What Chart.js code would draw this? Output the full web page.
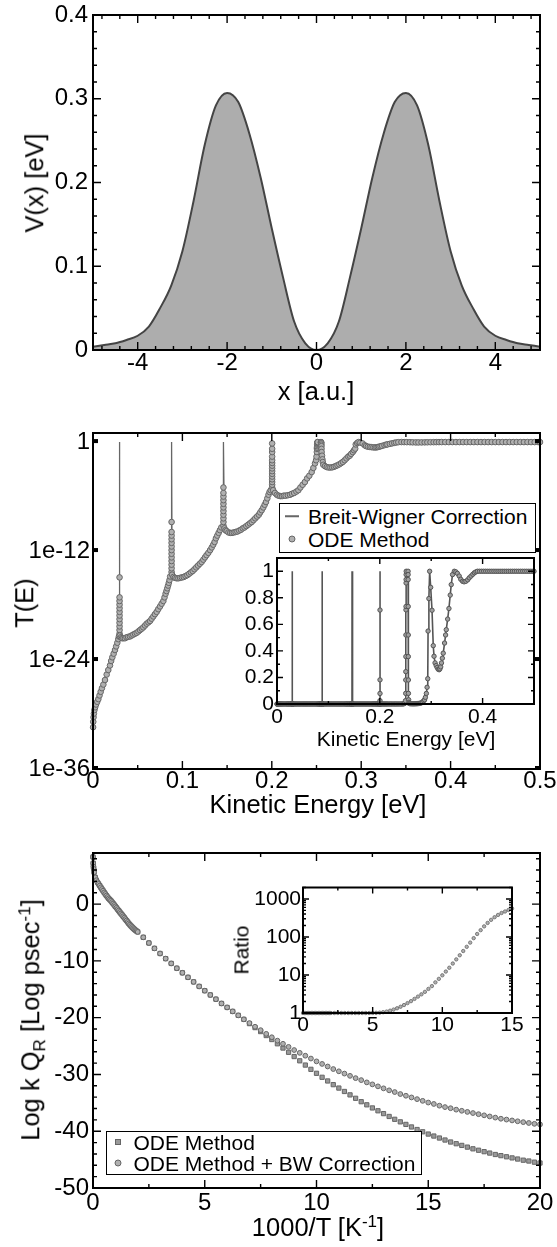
<!DOCTYPE html>
<html>
<head>
<meta charset="utf-8">
<title>Double barrier: potential, transmission and rate</title>
<script src="https://cdn.jsdelivr.net/npm/chart.js@4.4.1/dist/chart.umd.min.js"></script>
<style>
  html, body { margin:0; padding:0; background:#fff; }
  body { position:relative; width:557px; height:1247px; overflow:hidden;
         font-family:'Liberation Sans', Arial, Helvetica, sans-serif; color:#000; }
  canvas { position:absolute; }
  .t { position:absolute; font-size:25.5px; line-height:1; white-space:nowrap; transform:translate(-50%,-50%); }
  .t.rot { transform:translate(-50%,-50%) rotate(-90deg); }
  .t.small { font-size:21px; }
  .t sub, .t sup { font-size:17px; line-height:0; }
  .legend { position:absolute; box-sizing:border-box; border:1.5px solid #000; background:#fff; }
  .legend span { position:absolute; }
  .lt { font-size:21px; line-height:1; white-space:nowrap; transform:translateY(-50%); }
  .mk { transform:translate(-50%,-50%); box-sizing:border-box; }
</style>
</head>
<body>
<canvas id="c1" width="557" height="420" style="left:0;top:0"></canvas>
<canvas id="c2" width="557" height="410" style="left:0;top:420px"></canvas>
<canvas id="c3" width="557" height="417" style="left:0;top:830px"></canvas>
<canvas id="c2i" width="305" height="204" style="left:240px;top:546px"></canvas>
<canvas id="c3i" width="315" height="180" style="left:230px;top:870px"></canvas>

<div class="t rot" style="left:35px;top:183px">V(x) [eV]</div>
<div class="t" style="left:316px;top:392px">x [a.u.]</div>
<div class="t rot" style="left:25px;top:603px">T(E)</div>
<div class="t" style="left:318px;top:805px">Kinetic Energy [eV]</div>
<div class="t small" style="left:406px;top:738px">Kinetic Energy [eV]</div>
<div class="t rot" style="left:31px;top:1020px">Log k Q<sub>R</sub> [Log psec<sup>-1</sup>]</div>
<div class="t" style="left:318px;top:1228px">1000/T [K<sup>-1</sup>]</div>
<div class="t rot small" style="left:241px;top:950px">Ratio</div>

<div class="legend" style="left:279px;top:503px;width:257px;height:50px">
  <span class="mk" style="left:12px;top:12px;width:14px;height:1.5px;background:#666"></span>
  <span class="lt" style="left:28px;top:12px">Breit-Wigner Correction</span>
  <span class="mk" style="left:12px;top:35px;width:7px;height:7px;border-radius:50%;background:#b0b0b0;border:1px solid #666"></span>
  <span class="lt" style="left:28px;top:35px">ODE Method</span>
</div>
<div class="legend" style="left:106px;top:1131px;width:316px;height:44px">
  <span class="mk" style="left:11px;top:10px;width:6px;height:6px;background:#999;border:1px solid #666"></span>
  <span class="lt" style="left:26.5px;top:10px">ODE Method</span>
  <span class="mk" style="left:11px;top:31px;width:7px;height:7px;border-radius:50%;background:#b0b0b0;border:1px solid #666"></span>
  <span class="lt" style="left:26.5px;top:31px">ODE Method + BW Correction</span>
</div>

<script>
// ---------------- data ----------------

// top panel: double barrier potential V(x) [eV]
const potX = [-5, -4.75, -4.5, -4.25, -4, -3.75, -3.5, -3.25, -3, -2.75, -2.5, -2.25, -2, -1.75, -1.5, -1.25, -1, -0.75, -0.5, -0.25, 0,
              0.25, 0.5, 0.75, 1, 1.25, 1.5, 1.75, 2, 2.25, 2.5, 2.75, 3, 3.25, 3.5, 3.75, 4, 4.25, 4.5, 4.75, 5];
const potV = [0.004, 0.006, 0.008, 0.012, 0.017, 0.028, 0.050, 0.077, 0.118, 0.178, 0.245, 0.292, 0.307, 0.296, 0.258, 0.206, 0.145, 0.087, 0.034, 0.008, 0,
              0.008, 0.034, 0.087, 0.145, 0.206, 0.258, 0.296, 0.307, 0.292, 0.245, 0.178, 0.118, 0.077, 0.050, 0.028, 0.017, 0.012, 0.008, 0.006, 0.004];

// middle panel: ODE transmission, energy [eV] and log10 T
const odeE = [
  0.0001, 0.0003, 0.0006, 0.0010, 0.0016, 0.0024, 0.0034, 0.0047, 0.0060, 0.0073,
  0.0086, 0.0100, 0.0116, 0.0134, 0.0153, 0.0171, 0.0190, 0.0203, 0.0216, 0.0231,
  0.0246, 0.0259, 0.0272, 0.0283, 0.0290,
  0.0297, 0.0297, 0.0297, 0.0297, 0.0297, 0.0297, 0.0297, 0.0297, 0.0297, 0.0297, 0.0297, 0.0297,
  0.0300, 0.0312, 0.0325, 0.0340, 0.0358, 0.0375, 0.0393, 0.0414, 0.0432, 0.0450,
  0.0470, 0.0489, 0.0508, 0.0526, 0.0545, 0.0563, 0.0582, 0.0600, 0.0620, 0.0638,
  0.0656, 0.0675, 0.0693, 0.0712, 0.0730, 0.0750, 0.0768, 0.0787, 0.0800, 0.0812,
  0.0822, 0.0831, 0.0840, 0.0848, 0.0856, 0.0863,
  0.0879, 0.0879, 0.0879, 0.0879, 0.0879, 0.0879, 0.0879, 0.0879, 0.0879, 0.0879, 0.0879, 0.0879, 0.0879,
  0.0885, 0.0900, 0.0917, 0.0935, 0.0955, 0.0975, 0.0995, 0.1015, 0.1035, 0.1055,
  0.1075, 0.1095, 0.1115, 0.1135, 0.1155, 0.1175, 0.1195, 0.1215, 0.1234, 0.1252,
  0.1270, 0.1290, 0.1310, 0.1328, 0.1345, 0.1360, 0.1375, 0.1390, 0.1405, 0.1420,
  0.1435,
  0.1459, 0.1459, 0.1459, 0.1459, 0.1459, 0.1459, 0.1459, 0.1459, 0.1459, 0.1459, 0.1459,
  0.1470, 0.1482, 0.1495, 0.1515, 0.1535, 0.1555, 0.1575, 0.1595, 0.1615, 0.1635,
  0.1655, 0.1675, 0.1695, 0.1715, 0.1735, 0.1755, 0.1775, 0.1795, 0.1815, 0.1835,
  0.1855, 0.1870, 0.1887, 0.1905, 0.1920, 0.1935, 0.1950, 0.1963, 0.1975, 0.1988,
  0.2004, 0.2004, 0.2004, 0.2004, 0.2004, 0.2004, 0.2004, 0.2004, 0.2004, 0.2004, 0.2004, 0.2004, 0.2004, 0.2004, 0.2004,
  0.2015, 0.2035, 0.2056, 0.2075, 0.2095, 0.2115, 0.2135, 0.2155, 0.2180, 0.2204,
  0.2225, 0.2250, 0.2275, 0.2297, 0.2320, 0.2345, 0.2370, 0.2395, 0.2420, 0.2446,
  0.2465, 0.2483, 0.2495, 0.2500,
  0.2504, 0.2505, 0.2506, 0.2507, 0.2508, 0.2509, 0.2510, 0.2511, 0.2512, 0.2513, 0.2514,
  0.2550, 0.2551, 0.2552, 0.2553, 0.2554, 0.2555, 0.2556, 0.2557,
  0.2562, 0.2566, 0.2570,
  0.2576, 0.2595, 0.2615, 0.2635, 0.2655, 0.2675, 0.2695, 0.2715, 0.2735, 0.2755,
  0.2775, 0.2795, 0.2815, 0.2835, 0.2855, 0.2872, 0.2887, 0.2906, 0.2920, 0.2933,
  0.2939, 0.2955, 0.2970,
  0.2990, 0.3016, 0.3040, 0.3055, 0.3075, 0.3097, 0.3116, 0.3136, 0.3155, 0.3170,
  0.3185, 0.3200, 0.3217, 0.3234, 0.3260, 0.3280, 0.3293, 0.3320, 0.3345, 0.3370,
  0.3390, 0.3415, 0.3450, 0.3480, 0.3510, 0.3545, 0.3575, 0.3610, 0.3640, 0.3675,
  0.3710, 0.3740, 0.3775, 0.3810, 0.3840, 0.3870, 0.3900,
  0.394, 0.398, 0.402, 0.406, 0.410, 0.414, 0.418, 0.422, 0.426, 0.430,
  0.434, 0.438, 0.442, 0.446, 0.450, 0.454, 0.458, 0.462, 0.466, 0.470,
  0.474, 0.478, 0.482, 0.486, 0.490, 0.494, 0.498, 0.500
];
const odeLogT = [
  -31.4, -30.8, -30.3, -29.9, -29.5, -29.2, -28.9, -28.6, -28.3, -27.9,
  -27.5, -27.1, -26.7, -26.2, -25.6, -25.1, -24.6, -24.1, -23.7, -23.3,
  -22.9, -22.5, -22.1, -21.7, -21.4,
  -21.1, -20.7, -20.3, -19.9, -19.5, -19.1, -18.7, -18.3, -17.9, -17.5, -17.1, -14.9,
  -21.3, -21.5, -21.6, -21.6, -21.6, -21.5, -21.45, -21.4, -21.3, -21.2,
  -21.1, -21.0, -20.85, -20.7, -20.55, -20.4, -20.2, -20.0, -19.85, -19.7,
  -19.45, -19.2, -18.95, -18.7, -18.4, -18.1, -17.8, -17.5, -17.1, -16.7,
  -16.4, -16.1, -15.8, -15.5, -15.2, -14.8,
  -14.3, -13.9, -13.5, -13.1, -12.7, -12.3, -11.9, -11.5, -11.1, -10.7, -10.3, -9.9, -8.8,
  -14.6, -14.85, -14.95, -15.0, -15.0, -14.95, -14.9, -14.85, -14.75, -14.65,
  -14.5, -14.35, -14.2, -14.0, -13.8, -13.6, -13.4, -13.2, -12.95, -12.7,
  -12.45, -12.2, -11.9, -11.6, -11.3, -11.0, -10.6, -10.3, -10.0, -9.7,
  -9.4,
  -9.2, -8.8, -8.4, -8.0, -7.6, -7.2, -6.8, -6.4, -6.0, -5.6, -5.0,
  -9.5, -9.7, -9.8, -9.95, -10.0, -10.0, -9.95, -9.9, -9.85, -9.75,
  -9.65, -9.5, -9.4, -9.25, -9.1, -8.95, -8.8, -8.6, -8.4, -8.2,
  -8.0, -7.75, -7.5, -7.2, -6.9, -6.6, -6.2, -5.8, -5.5, -5.3,
  -5.0, -4.7, -4.4, -4.1, -3.8, -3.5, -3.2, -2.9, -2.6, -2.3, -2.0, -1.6, -1.1, -0.74, -0.15,
  -5.3, -5.6, -5.8, -5.9, -5.95, -5.95, -5.9, -5.9, -5.85, -5.8,
  -5.7, -5.6, -5.45, -5.3, -5.0, -4.7, -4.4, -4.0, -3.7, -3.3,
  -2.85, -2.35, -2.0, -1.6,
  -1.097, -0.742, -0.613, -0.447, -0.284, -0.149, -0.134, -0.040, -0.028, -0.011, 0,
  0, -0.011, -0.028, -0.134, -0.284, -0.447, -0.742, -1.097,
  -1.5, -1.9, -2.2,
  -2.5, -2.65, -2.75, -2.8, -2.8, -2.78, -2.72, -2.64, -2.55, -2.45,
  -2.32, -2.18, -2.0, -1.8, -1.6, -1.5, -1.3, -1.1, -0.9, -0.72,
  -0.26, -0.1, 0,
  -0.056, -0.151, -0.357, -0.444, -0.509, -0.538, -0.561, -0.582, -0.588, -0.577,
  -0.553, -0.509, -0.462, -0.417, -0.338, -0.284, -0.252, -0.194, -0.143, -0.086,
  -0.046, -0.011, 0, -0.002, -0.007, -0.016, -0.027, -0.034, -0.036, -0.034,
  -0.029, -0.022, -0.016, -0.010, -0.005, -0.002, 0,
  0, 0, 0, 0, 0, 0, 0, 0, 0, 0,
  0, 0, 0, 0, 0, 0, 0, 0, 0, 0,
  0, 0, 0, 0, 0, 0, 0, 0
];
// Breit-Wigner correction lifts the narrow resonances to T = 1
const bwPeakE = [0.0298, 0.0880, 0.1460, 0.2005];
const bwPeakT = [1, 1, 1, 1];

// bottom panel: Log k Q_R against 1000/T
const rateX = [
  0, 0.01, 0.02, 0.03, 0.05, 0.10, 0.15, 0.20, 0.25, 0.30, 0.35, 0.40, 0.45, 0.50, 0.55,
  0.60, 0.65, 0.70, 0.75, 0.80, 0.85, 0.90, 0.95, 1.00, 1.05, 1.10, 1.15, 1.20, 1.25, 1.30,
  1.35, 1.40, 1.45, 1.50, 1.55, 1.60, 1.65, 1.70, 1.75, 1.80, 1.85, 1.90, 1.95, 2.00,
  2.25, 2.5, 2.75, 3, 3.25, 3.5, 3.75, 4, 4.25, 4.5, 4.75, 5,
  5.25, 5.5, 5.75, 6, 6.25, 6.5, 6.75, 7, 7.25, 7.5, 7.75, 8,
  8.25, 8.5, 8.75, 9, 9.25, 9.5, 9.75, 10, 10.25, 10.5, 10.75, 11,
  11.25, 11.5, 11.75, 12, 12.25, 12.5, 12.75, 13, 13.25, 13.5, 13.75, 14,
  14.25, 14.5, 14.75, 15, 15.25, 15.5, 15.75, 16, 16.25, 16.5, 16.75, 17,
  17.25, 17.5, 17.75, 18, 18.25, 18.5, 18.75, 19, 19.25, 19.5, 19.75, 20
];
const rateBW = [
  8.3, 7.2, 6.6, 6.2, 5.6, 4.7, 4.2, 3.85, 3.55, 3.25, 2.95, 2.65, 2.35, 2.05, 1.78,
  1.5, 1.25, 1.0, 0.8, 0.6, 0.35, 0.1, -0.15, -0.4, -0.65, -0.9, -1.15, -1.4, -1.65, -1.9,
  -2.15, -2.4, -2.65, -2.9, -3.15, -3.4, -3.63, -3.85, -4.05, -4.25, -4.43, -4.6, -4.75, -4.9,
  -5.85, -6.85, -7.8, -8.7, -9.6, -10.45, -11.3, -12.1, -12.9, -13.7, -14.5, -15.25,
  -16.0, -16.75, -17.5, -18.2, -18.9, -19.6, -20.3, -20.95, -21.6, -22.2, -22.85, -23.45,
  -24.05, -24.6, -25.15, -25.7, -26.2, -26.7, -27.2, -27.7, -28.15, -28.6, -29.05, -29.45,
  -29.85, -30.25, -30.65, -31.0, -31.4, -31.75, -32.1, -32.45, -32.8, -33.1, -33.45, -33.75,
  -34.05, -34.35, -34.65, -34.95, -35.2, -35.5, -35.75, -35.95, -36.2, -36.4, -36.6, -36.8,
  -37.0, -37.2, -37.4, -37.6, -37.8, -37.95, -38.1, -38.25, -38.4, -38.55, -38.7, -38.8
];
const rateODE = [
  8.3, 7.2, 6.6, 6.2, 5.6, 4.7, 4.2, 3.85, 3.55, 3.25, 2.95, 2.65, 2.35, 2.05, 1.78,
  1.5, 1.25, 1.0, 0.8, 0.6, 0.35, 0.1, -0.15, -0.4, -0.65, -0.9, -1.15, -1.4, -1.65, -1.9,
  -2.15, -2.4, -2.65, -2.9, -3.15, -3.4, -3.63, -3.85, -4.05, -4.25, -4.43, -4.6, -4.75, -4.9,
  -5.85, -6.85, -7.8, -8.7, -9.6, -10.45, -11.3, -12.1, -12.9, -13.7, -14.5, -15.25,
  -16.0, -16.75, -17.5, -18.2, -18.9, -19.6, -20.3, -21.05, -21.75, -22.45, -23.15, -23.85,
  -24.6, -25.35, -26.1, -26.85, -27.6, -28.35, -29.1, -29.8, -30.5, -31.15, -31.8, -32.4,
  -33.0, -33.6, -34.2, -34.8, -35.35, -35.9, -36.4, -36.9, -37.4, -37.9, -38.35, -38.8,
  -39.25, -39.7, -40.1, -40.5, -40.85, -41.2, -41.55, -41.9, -42.2, -42.5, -42.8, -43.1,
  -43.35, -43.6, -43.85, -44.1, -44.3, -44.5, -44.7, -44.9, -45.1, -45.25, -45.45, -45.6
];

// bottom inset: ratio of the two rates
const ratioX = [
  0, 0.1, 0.2, 0.3, 0.4, 0.5, 0.6, 0.7, 0.8, 0.9, 1.0, 1.1, 1.2, 1.3, 1.4, 1.5, 1.6, 1.7, 1.8, 1.9, 2.0,
  2.25, 2.5, 2.75, 3, 3.25, 3.5, 3.75, 4, 4.25, 4.5, 4.75, 5,
  5.25, 5.5, 5.75, 6, 6.25, 6.5, 6.75, 7, 7.25, 7.5, 7.75, 8,
  8.25, 8.5, 8.75, 9, 9.25, 9.5, 9.75, 10, 10.25, 10.5, 10.75, 11,
  11.25, 11.5, 11.75, 12, 12.25, 12.5, 12.75, 13, 13.25, 13.5, 13.75, 14,
  14.25, 14.5, 14.75, 15
];
const ratioVal = [
  1, 1, 1, 1, 1, 1, 1, 1, 1, 1, 1, 1, 1, 1, 1, 1, 1, 1, 1, 1, 1,
  1, 1, 1, 1, 1, 1, 1, 1, 1, 1, 1, 1.005,
  1.01, 1.02, 1.05, 1.09, 1.15, 1.23, 1.33, 1.46, 1.62, 1.82, 2.05, 2.35,
  2.7, 3.1, 3.6, 4.3, 5.1, 6.4, 7.9, 9.8, 12.3, 15.5, 20, 25.7,
  33, 42.7, 55, 71, 93, 120, 151, 190, 234, 282, 331, 380,
  427, 468, 513, 562
];

// tick positions and labels
const p1XTicks = [-4, -2, 0, 2, 4], p1XLabels = ['-4', '-2', '0', '2', '4'];
const p1YTicks = [0, 0.1, 0.2, 0.3, 0.4], p1YLabels = ['0', '0.1', '0.2', '0.3', '0.4'];
const p2XTicks = [0, 0.1, 0.2, 0.3, 0.4, 0.5], p2XLabels = ['0', '0.1', '0.2', '0.3', '0.4', '0.5'];
const p2YTicks = [1e-36, 1e-24, 1e-12, 1], p2YLabels = ['1e-36', '1e-24', '1e-12', '1'];
const in2XTicks = [0, 0.2, 0.4], in2XLabels = ['0', '0.2', '0.4'];
const in2YTicks = [0, 0.2, 0.4, 0.6, 0.8, 1], in2YLabels = ['0', '0.2', '0.4', '0.6', '0.8', '1'];
const p3XTicks = [0, 5, 10, 15, 20], p3XLabels = ['0', '5', '10', '15', '20'];
const p3YTicks = [-50, -40, -30, -20, -10, 0], p3YLabels = ['-50', '-40', '-30', '-20', '-10', '0'];
const in3XTicks = [0, 5, 10, 15], in3XLabels = ['0', '5', '10', '15'];
const in3YTicks = [1, 10, 100, 1000], in3YLabels = ['1', '10', '100', '1000'];

// ---------------- helpers ----------------
Chart.defaults.font.family = "'Liberation Sans', Arial, Helvetica, sans-serif";
Chart.defaults.color = '#000';

function minor(from, to, step, majors) {
  const out = [];
  const n = Math.round((to - from) / step);
  for (let k = 0; k <= n; k++) {
    const v = +(from + k * step).toFixed(6);
    if (!majors.some(m => Math.abs(m - v) < 1e-9)) out.push(v);
  }
  return out;
}
function logMinor(decades, top) {
  const out = [];
  decades.forEach(d => { for (let k = 2; k <= 9; k++) if (d * k <= top) out.push(d * k); });
  return out;
}
function zeroPad(s) { s.paddingTop = s.paddingBottom = s.paddingLeft = s.paddingRight = 0; }

// x/y axis without grid; labels from the arrays above
function axis(extra, vals, labels, size, pad, fit) {
  return Object.assign({
    grid: { display: false, drawTicks: false },
    border: { display: false },
    afterBuildTicks: s => { s.ticks = vals.map(v => ({ value: v })); },
    afterFit: fit,
    ticks: { autoSkip: false, maxRotation: 0, minRotation: 0, padding: pad, color: '#000',
             font: { size: size, lineHeight: 1 }, callback: (v, i) => labels[i] }
  }, extra);
}
const fixW = w => s => { s.width = w; zeroPad(s); };
const fixH = h => s => { s.height = h; zeroPad(s); };

// inward ticks on all four sides + frame, xmgrace style
const frameTicks = {
  id: 'frameTicks',
  beforeDatasetsDraw(chart, args, o) {
    if (!o.white) return;
    const a = chart.chartArea, ctx = chart.ctx;
    ctx.save();
    ctx.fillStyle = '#fff';
    ctx.fillRect(a.left, a.top, a.right - a.left, a.bottom - a.top);
    ctx.restore();
  },
  afterDraw(chart, args, o) {
    const { ctx, chartArea: a } = chart;
    const sx = chart.scales.x, sy = chart.scales.y;
    ctx.save();
    ctx.strokeStyle = '#000';
    ctx.fillStyle = '#000';
    ctx.lineWidth = 1.4;
    ctx.beginPath();
    const vt = (vals, len) => vals.forEach(v => {
      const p = sx.getPixelForValue(v);
      ctx.moveTo(p, a.bottom); ctx.lineTo(p, a.bottom - len);
      ctx.moveTo(p, a.top); ctx.lineTo(p, a.top + len);
    });
    const ht = (vals, len) => vals.forEach(v => {
      const p = sy.getPixelForValue(v);
      ctx.moveTo(a.left, p); ctx.lineTo(a.left + len, p);
      ctx.moveTo(a.right, p); ctx.lineTo(a.right - len, p);
    });
    vt(o.xMajor || [], o.major); vt(o.xMinor || [], o.minor);
    ht(o.yMajor || [], o.major); ht(o.yMinor || [], o.minor);
    ctx.stroke();
    (o.yBlocks || []).forEach(v => {
      const p = sy.getPixelForValue(v);
      ctx.fillRect(a.left, p - 3, 5, 4);
      ctx.fillRect(a.right - 5, p - 3, 5, 4);
    });
    ctx.lineWidth = 2;
    ctx.strokeRect(a.left, a.top, a.right - a.left, a.bottom - a.top);
    ctx.restore();
  }
};

const base = { responsive: false, animation: false, devicePixelRatio: 1, events: [] };

// ---------------- top panel: potential ----------------
new Chart(document.getElementById('c1'), {
  type: 'line',
  data: { datasets: [{
    data: potX.map((x, i) => ({ x: x, y: potV[i] })),
    borderColor: '#444', borderWidth: 2, backgroundColor: '#adadad',
    fill: 'origin', pointRadius: 0, cubicInterpolationMode: 'monotone'
  }] },
  options: Object.assign({}, base, {
    layout: { padding: { left: 0, top: 15, right: 17, bottom: 0 } },
    plugins: { legend: { display: false }, tooltip: { enabled: false },
      frameTicks: { major: 8, minor: 4, xMajor: p1XTicks, xMinor: minor(-4.8, 4.8, 0.4, p1XTicks),
                    yMajor: p1YTicks, yMinor: minor(0.02, 0.38, 0.02, p1YTicks) } },
    scales: {
      x: axis({ type: 'linear', min: -5, max: 5 }, p1XTicks, p1XLabels, 24, 1, fixH(70)),
      y: axis({ type: 'linear', min: 0, max: 0.4 }, p1YTicks, p1YLabels, 24, 5, fixW(93))
    }
  }),
  plugins: [frameTicks]
});

// ---------------- middle panel: T(E), log scale ----------------
const odePts = odeE.map((e, i) => ({ x: e, y: Math.pow(10, odeLogT[i]) }));
const bwPts = odePts.concat(bwPeakE.map((e, i) => ({ x: e, y: bwPeakT[i] })))
  .sort((p, q) => p.x - q.x);

new Chart(document.getElementById('c2'), {
  type: 'scatter',
  data: { datasets: [
    { data: odePts, pointRadius: 2.8, pointBorderWidth: 1, pointBackgroundColor: '#b0b0b0',
      pointBorderColor: '#666', clip: false },
    { data: bwPts, showLine: true, borderColor: '#666', borderWidth: 1.3, pointRadius: 0, tension: 0 }
  ] },
  options: Object.assign({}, base, {
    layout: { padding: { left: 0, top: 13, right: 17, bottom: 0 } },
    plugins: { legend: { display: false }, tooltip: { enabled: false },
      frameTicks: { major: 8, minor: 4, xMajor: p2XTicks, xMinor: minor(0.05, 0.45, 0.1, []),
                    yMajor: [], yMinor: [], yBlocks: p2YTicks } },
    scales: {
      x: axis({ type: 'linear', min: 0, max: 0.5 }, p2XTicks, p2XLabels, 24, 0, fixH(61)),
      y: axis({ type: 'logarithmic', min: 1e-36, max: 10 }, p2YTicks, p2YLabels, 24, 3, fixW(93))
    }
  }),
  plugins: [frameTicks]
});

// middle inset: same data on a linear axis
new Chart(document.getElementById('c2i'), {
  type: 'scatter',
  data: { datasets: [
    { data: odePts, pointRadius: 2.2, pointBorderWidth: 1, pointBackgroundColor: '#a0a0a0',
      pointBorderColor: '#555', clip: false },
    { data: bwPts, showLine: true, borderColor: '#555', borderWidth: 1.6, pointRadius: 0, tension: 0 }
  ] },
  options: Object.assign({}, base, {
    layout: { padding: { left: 0, top: 12, right: 11, bottom: 0 } },
    plugins: { legend: { display: false }, tooltip: { enabled: false },
      frameTicks: { white: true, major: 6, minor: 3, xMajor: in2XTicks, xMinor: [0.1, 0.3],
                    yMajor: in2YTicks, yMinor: [0.1, 0.3, 0.5, 0.7, 0.9] } },
    scales: {
      x: axis({ type: 'linear', min: 0, max: 0.5 }, in2XTicks, in2XLabels, 21, 3, fixH(46)),
      y: axis({ type: 'linear', min: 0, max: 1.1 }, in2YTicks, in2YLabels, 21, 3, fixW(37))
    }
  }),
  plugins: [frameTicks]
});

// ---------------- bottom panel: rate constants ----------------
new Chart(document.getElementById('c3'), {
  type: 'scatter',
  data: { datasets: [
    { data: rateX.map((x, i) => ({ x: x, y: rateBW[i] })), pointStyle: 'circle', pointRadius: 2.4,
      pointBorderWidth: 1, pointBackgroundColor: '#b0b0b0', pointBorderColor: '#666', clip: false },
    { data: rateX.map((x, i) => ({ x: x, y: rateODE[i] })), pointStyle: 'rect', pointRadius: 3,
      pointBorderWidth: 1, pointBackgroundColor: '#999', pointBorderColor: '#666', clip: false }
  ] },
  options: Object.assign({}, base, {
    layout: { padding: { left: 0, top: 23, right: 17, bottom: 0 } },
    plugins: { legend: { display: false }, tooltip: { enabled: false },
      frameTicks: { major: 8, minor: 4, xMajor: p3XTicks, xMinor: [2.5, 7.5, 12.5, 17.5],
                    yMajor: p3YTicks, yMinor: minor(-48, 8, 2, p3YTicks) } },
    scales: {
      x: axis({ type: 'linear', min: 0, max: 20 }, p3XTicks, p3XLabels, 24, 3, fixH(59)),
      y: axis({ type: 'linear', min: -50, max: 9 }, p3YTicks, p3YLabels, 24, 4, fixW(93))
    }
  }),
  plugins: [frameTicks]
});

// bottom inset: ratio, log axis
new Chart(document.getElementById('c3i'), {
  type: 'scatter',
  data: { datasets: [
    { data: ratioX.map((x, i) => ({ x: x, y: ratioVal[i] })), pointRadius: 1.7, pointBorderWidth: 0.8,
      pointBackgroundColor: '#b0b0b0', pointBorderColor: '#666', clip: false }
  ] },
  options: Object.assign({}, base, {
    layout: { padding: { left: 0, top: 17.5, right: 33, bottom: 0 } },
    plugins: { legend: { display: false }, tooltip: { enabled: false },
      frameTicks: { white: true, major: 6, minor: 3, xMajor: in3XTicks, xMinor: [2.5, 7.5, 12.5],
                    yMajor: in3YTicks, yMinor: logMinor(in3YTicks, 2000) } },
    scales: {
      x: axis({ type: 'linear', min: 0, max: 15 }, in3XTicks, in3XLabels, 21, 2, fixH(37)),
      y: axis({ type: 'logarithmic', min: 1, max: 2000 }, in3YTicks, in3YLabels, 21, 2, fixW(73))
    }
  }),
  plugins: [frameTicks]
});
</script>
</body>
</html>
